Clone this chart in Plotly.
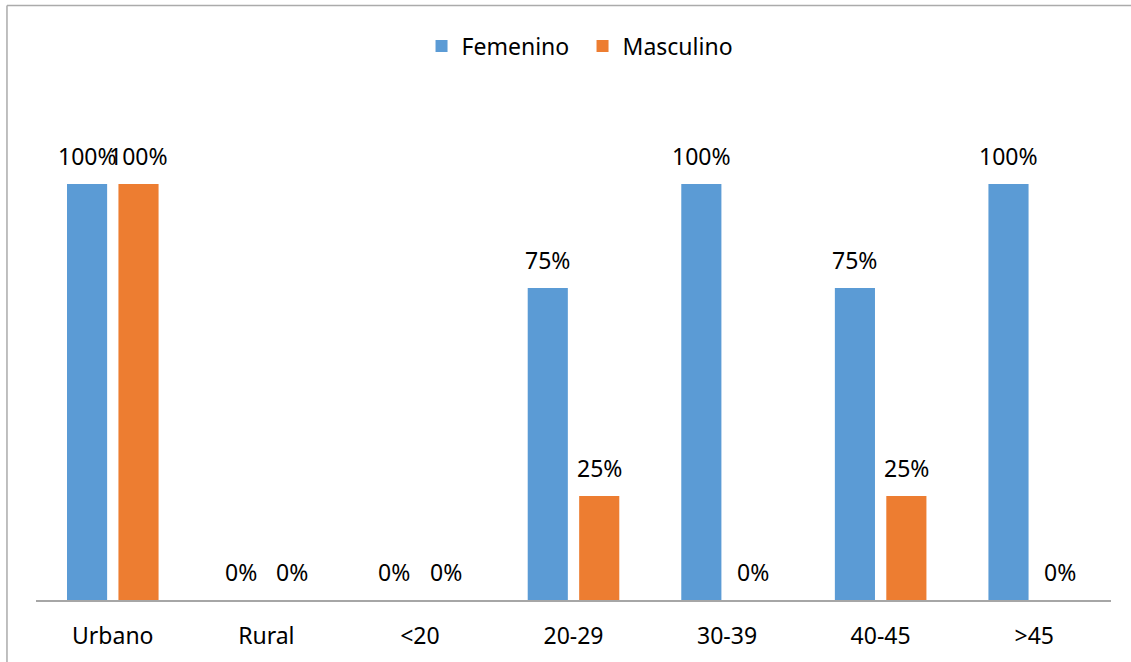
import plotly.graph_objects as go

categories = ["Urbano", "Rural", "<20", "20-29", "30-39", "40-45", ">45"]
femenino = [1.00, 0.00, 0.00, 0.75, 1.00, 0.75, 1.00]
masculino = [1.00, 0.00, 0.00, 0.25, 0.00, 0.25, 0.00]
series_names = ["Femenino", "Masculino"]
colors = ["#5B9BD5", "#ED7D31"]

FONT = "Noto Sans"
FS = 23
BARGAP = 0.33
BARGROUPGAP = 0.22

fig = go.Figure()
for name, vals, col in zip(series_names, [femenino, masculino], colors):
    fig.add_trace(go.Bar(name=name, x=categories, y=vals, marker_color=col,
                         marker_line_width=0))

# data labels as annotations placed above each bar
slot = (1 - BARGAP) / 2
annotations = []
for s, vals in enumerate([femenino, masculino]):
    off = -slot / 2 if s == 0 else slot / 2
    for i, v in enumerate(vals):
        annotations.append(dict(x=i + off, y=v, xref="x", yref="y",
                                text=f"{round(v*100)}%", showarrow=False,
                                yanchor="middle", yshift=28,
                                font=dict(family=FONT, size=FS, color="#000000")))

border = dict(color="#ABABAB", width=1.5)
fig.update_layout(
    width=1131, height=662,
    margin=dict(l=36, r=20, t=120, b=62),
    paper_bgcolor="white", plot_bgcolor="white",
    barmode="group", bargap=BARGAP, bargroupgap=BARGROUPGAP,
    font=dict(family=FONT, size=FS, color="#000000"),
    legend=dict(orientation="h", x=0.5084, xanchor="center", y=1.154, yanchor="middle",
                font=dict(family=FONT, size=FS), itemwidth=30, traceorder="normal",
                entrywidth=116, entrywidthmode="pixels"),
    annotations=annotations,
    shapes=[
        dict(type="line", xref="paper", yref="paper",
             x0=-0.027, y0=1.2385, x1=1.0186, y1=1.2385, line=border),
        dict(type="line", xref="paper", yref="paper",
             x0=-0.027, y0=1.2385, x1=-0.027, y1=-0.129, line=border),
    ],
)
fig.update_xaxes(showline=True, mirror=False, linecolor="#A6A6A6", linewidth=1.5,
                 showgrid=False, zeroline=False,
                 ticks="outside", ticklen=15, tickcolor="rgba(0,0,0,0)",
                 tickfont=dict(family=FONT, size=FS))
fig.update_yaxes(range=[0, 480/416], visible=False, showline=False, showgrid=False,
                 zeroline=False)

fig.write_html("out.html", config={"displayModeBar": False},
               post_script="document.body.style.margin='0';")
